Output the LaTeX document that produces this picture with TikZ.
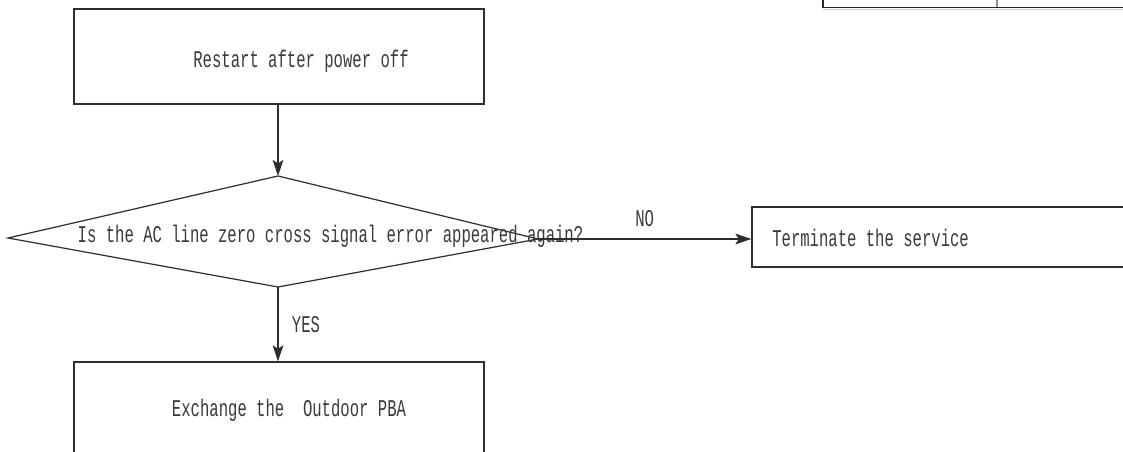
\documentclass[tikz,border=0pt]{standalone}
\usepackage{fontspec}
\usepackage{tikz}
\usetikzlibrary{arrows.meta}
\newfontfamily\flowfont[FakeStretch=0.65]{Liberation Mono}
\definecolor{linegray}{HTML}{2E2E2E}
\definecolor{textgray}{HTML}{3A3A3A}
\tikzset{
  flowbox/.style={draw=linegray, line width=0.9pt, rectangle, inner sep=0pt},
  flowtext/.style={text=textgray, font=\flowfont\fontsize{18}{20}\selectfont, inner sep=0pt},
  qarrow/.style={draw=linegray, -{Stealth[length=12pt,width=8pt,inset=2.5pt]}, line width=0.9pt}
}

\begin{document}
\begin{tikzpicture}[x=0.75pt, y=-0.75pt]
    \clip (0,0) rectangle (1123,452);
    \fill[white] (0,0) rectangle (1123,452);
    \draw[line width=1.2pt, black!85] (823,-5) -- (823,7.5) -- (1130,7.5);
    \draw[line width=1pt, black!45] (997,-5) -- (997,7);
    \draw[line width=0.8pt, black!20] (823,9.8) -- (1130,9.8);
    \node[flowbox, minimum width=307.5pt, minimum height=71.25pt] (restart) at (279,56.5) {};
    \node[flowtext] (restarttext) at (301,61) {Restart after power off};
    \coordinate (dtop) at (278,176);
    \coordinate (dleft) at (8,238);
    \coordinate (dright) at (538,239);
    \coordinate (dbottom) at (278,287);
    \draw[draw=linegray, line width=0.9pt] (dtop) -- (dright) -- (dbottom) -- (dleft) -- cycle;
    \node[flowtext] (question) at (330.5,236) {Is the AC line zero cross signal error appeared again?};
    \node[flowbox, minimum width=291pt, minimum height=45pt] (term) at (946,237) {};
    \node[flowtext, anchor=west] (termtext) at (772,238) {Terminate the service};
    \node[flowbox, minimum width=307.5pt, minimum height=71.25pt] (xchg) at (279,409.5) {};
    \node[flowtext] (xchgtext) at (289,410) {Exchange the\ \ Outdoor PBA};
    \draw[qarrow] (restart.south -| dtop) -- (dtop);
    \draw[qarrow] (dright) -- node[flowtext, above=9pt] {NO} (dright -| term.west);
    \draw[qarrow] (dbottom) -- node[flowtext, right=10pt] {YES} (xchg.north -| dbottom);
  \end{tikzpicture}
\end{document}
